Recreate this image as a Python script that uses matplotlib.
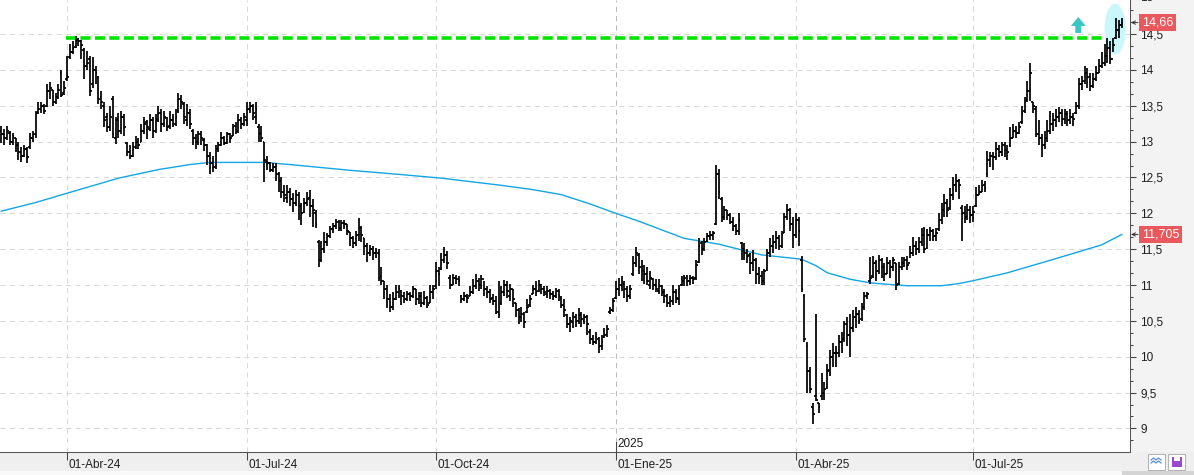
import matplotlib

matplotlib.use("Agg")
import matplotlib.pyplot as plt
import matplotlib.transforms as mtrans
from matplotlib.collections import LineCollection
from matplotlib.lines import Line2D
from matplotlib.patches import Ellipse, FancyArrowPatch, Rectangle
from matplotlib.ticker import FixedLocator, FuncFormatter, MultipleLocator, NullFormatter

plt.rcParams["font.family"] = ["Liberation Sans", "DejaVu Sans"]

# daily OHLC bars, one per trading session (index 0 = late Feb 2024, 392 = Sep 2025)
open_ = [
    13.15, 13.10, 13.05, 13.12, 13.00, 13.05, 12.95, 12.85, 12.80, 12.90,
    12.92, 13.05, 13.10, 13.40, 13.45, 13.50, 13.50, 13.70, 13.72, 13.55,
    13.62, 13.95, 13.68, 13.88, 14.18, 14.25, 14.32, 14.42, 14.40, 14.28,
    14.05, 14.15, 13.80, 14.00, 13.90, 13.62, 13.50, 13.35, 13.20, 13.60,
    13.05, 13.30, 13.15, 13.35, 12.98, 12.85, 12.80, 12.92, 13.00, 13.00,
    13.15, 13.28, 13.18, 13.30, 13.15, 13.30, 13.40, 13.25, 13.33, 13.22,
    13.30, 13.25, 13.42, 13.60, 13.52, 13.30, 13.40, 13.15, 13.05, 13.00,
    13.10, 13.02, 12.95, 12.80, 12.70, 12.65, 12.90, 12.95, 13.05, 12.98,
    13.10, 13.08, 13.22, 13.15, 13.30, 13.25, 13.30, 13.45, 13.50, 13.35,
    13.20, 13.12, 13.00, 12.72, 12.70, 12.60, 12.65, 12.55, 12.45, 12.30,
    12.22, 12.30, 12.20, 12.15, 12.25, 12.10, 12.02, 12.15, 12.22, 12.10,
    12.00, 11.60, 11.35, 11.50, 11.60, 11.68, 11.78, 11.82, 11.88, 11.80,
    11.86, 11.85, 11.74, 11.65, 11.58, 11.70, 11.80, 11.65, 11.55, 11.45,
    11.50, 11.45, 11.45, 11.12, 11.05, 10.95, 10.80, 10.70, 10.80, 10.90,
    10.92, 10.85, 10.80, 10.88, 10.85, 10.95, 10.80, 10.85, 10.75, 10.82,
    10.75, 10.90, 10.98, 11.20, 11.22, 11.35, 11.42, 11.10, 11.00, 11.10,
    11.08, 10.85, 10.80, 10.85, 10.85, 10.90, 10.98, 11.05, 11.00, 11.08,
    10.95, 10.90, 10.82, 10.78, 10.62, 10.75, 10.90, 11.00, 10.85, 10.95,
    10.75, 10.65, 10.55, 10.60, 10.62, 10.72, 10.88, 10.95, 10.92, 11.00,
    10.95, 10.88, 10.92, 10.88, 10.85, 10.92, 10.82, 10.72, 10.58, 10.45,
    10.48, 10.55, 10.50, 10.58, 10.50, 10.55, 10.35, 10.25, 10.20, 10.25,
    10.15, 10.28, 10.32, 10.62, 10.65, 10.82, 10.95, 11.00, 11.02, 10.95,
    10.85, 11.15, 11.30, 11.42, 11.25, 11.20, 11.15, 11.00, 11.08, 11.00,
    10.92, 10.98, 10.90, 10.85, 10.75, 10.78, 10.90, 10.80, 11.00, 11.05,
    11.12, 11.05, 11.10, 11.10, 11.32, 11.58, 11.50, 11.62, 11.68, 11.70,
    11.85, 12.55, 12.20, 11.95, 12.05, 11.98, 11.88, 11.82, 11.75, 11.58,
    11.50, 11.45, 11.42, 11.30, 11.35, 11.15, 11.12, 11.05, 11.22, 11.45,
    11.55, 11.60, 11.65, 11.55, 11.72, 11.95, 12.05, 11.85, 11.70, 11.90,
    11.35, 10.85, 10.15, 9.80, 9.30, 9.45, 9.35, 9.45, 9.50, 9.58,
    9.82, 10.00, 10.05, 10.05, 10.20, 10.25, 10.45, 10.30, 10.40, 10.55,
    10.60, 10.52, 10.70, 10.85, 11.05, 11.12, 11.30, 11.20, 11.35, 11.25,
    11.15, 11.30, 11.25, 11.30, 11.02, 11.25, 11.30, 11.35, 11.30, 11.45,
    11.55, 11.50, 11.60, 11.70, 11.52, 11.70, 11.75, 11.68, 11.78, 11.90,
    12.05, 12.15, 12.08, 12.25, 12.40, 12.45, 12.08, 12.00, 11.95, 12.05,
    11.98, 12.10, 12.25, 12.30, 12.40, 12.55, 12.75, 12.80, 12.78, 12.90,
    12.85, 12.95, 12.88, 12.95, 13.05, 13.15, 13.12, 13.28, 13.42, 13.58,
    13.70, 13.55, 13.45, 13.10, 13.05, 12.95, 13.05, 13.15, 13.25, 13.30,
    13.35, 13.40, 13.32, 13.38, 13.30, 13.35, 13.40, 13.50, 13.80, 13.85,
    13.95, 13.90, 13.78, 13.88, 13.95, 14.05, 14.10, 14.20, 14.30, 14.15,
    14.45, 14.55, 14.62,
]
high = [
    13.22, 13.18, 13.22, 13.15, 13.12, 13.05, 13.00, 12.92, 12.95, 12.92,
    13.12, 13.15, 13.42, 13.55, 13.55, 13.52, 13.80, 13.83, 13.72, 13.68,
    13.80, 14.00, 13.85, 14.20, 14.36, 14.40, 14.47, 14.45, 14.42, 14.30,
    14.26, 14.20, 14.18, 14.05, 13.92, 13.70, 13.55, 13.40, 13.50, 13.64,
    13.35, 13.40, 13.43, 13.38, 13.00, 12.95, 12.99, 13.08, 13.05, 13.25,
    13.35, 13.30, 13.38, 13.35, 13.38, 13.50, 13.45, 13.42, 13.35, 13.43,
    13.38, 13.45, 13.68, 13.65, 13.55, 13.52, 13.45, 13.18, 13.10, 13.15,
    13.15, 13.05, 12.97, 12.85, 12.80, 12.95, 13.00, 13.13, 13.08, 13.13,
    13.12, 13.25, 13.28, 13.38, 13.35, 13.40, 13.55, 13.55, 13.52, 13.55,
    13.25, 13.22, 13.00, 12.80, 12.72, 12.70, 12.70, 12.57, 12.50, 12.40,
    12.40, 12.35, 12.28, 12.32, 12.30, 12.15, 12.22, 12.30, 12.32, 12.20,
    12.05, 11.63, 11.62, 11.74, 11.72, 11.82, 11.86, 11.92, 11.90, 11.90,
    11.90, 11.85, 11.74, 11.68, 11.76, 11.93, 11.82, 11.65, 11.58, 11.56,
    11.55, 11.52, 11.50, 11.25, 11.05, 11.00, 10.88, 10.90, 11.00, 11.00,
    10.93, 10.90, 10.92, 10.90, 10.98, 10.95, 10.90, 10.90, 10.92, 10.85,
    11.00, 11.00, 11.32, 11.25, 11.45, 11.53, 11.48, 11.14, 11.16, 11.14,
    11.12, 10.86, 10.90, 10.88, 10.98, 11.08, 11.16, 11.10, 11.14, 11.05,
    10.98, 10.95, 10.88, 10.85, 11.05, 10.98, 11.07, 11.05, 11.02, 10.95,
    10.75, 10.68, 10.70, 10.62, 10.80, 10.86, 11.00, 11.05, 11.07, 11.02,
    10.98, 10.98, 10.95, 10.92, 10.96, 10.95, 10.85, 10.80, 10.60, 10.55,
    10.62, 10.60, 10.68, 10.62, 10.60, 10.58, 10.38, 10.30, 10.35, 10.28,
    10.30, 10.40, 10.44, 10.70, 10.82, 11.05, 11.10, 11.12, 11.05, 10.98,
    11.00, 11.40, 11.53, 11.45, 11.35, 11.28, 11.25, 11.20, 11.10, 11.08,
    11.09, 11.00, 10.95, 10.88, 10.85, 11.00, 10.95, 11.00, 11.12, 11.14,
    11.14, 11.14, 11.12, 11.35, 11.65, 11.62, 11.65, 11.72, 11.76, 11.76,
    12.67, 12.62, 12.23, 12.10, 12.05, 12.00, 11.95, 11.85, 12.00, 11.60,
    11.58, 11.50, 11.45, 11.49, 11.38, 11.25, 11.20, 11.23, 11.50, 11.65,
    11.70, 11.76, 11.70, 11.75, 12.00, 12.13, 12.08, 11.95, 12.00, 11.95,
    11.40, 10.88, 10.21, 9.85, 9.36, 10.60, 9.36, 9.77, 9.65, 9.90,
    10.10, 10.19, 10.15, 10.30, 10.35, 10.50, 10.55, 10.60, 10.65, 10.70,
    10.65, 10.75, 10.90, 10.90, 11.39, 11.40, 11.35, 11.42, 11.38, 11.30,
    11.39, 11.35, 11.39, 11.30, 11.32, 11.39, 11.39, 11.40, 11.55, 11.67,
    11.62, 11.67, 11.80, 11.81, 11.78, 11.81, 11.78, 11.80, 12.00, 12.15,
    12.27, 12.20, 12.35, 12.50, 12.55, 12.48, 12.11, 12.10, 12.13, 12.10,
    12.10, 12.37, 12.40, 12.46, 12.45, 12.87, 12.85, 12.85, 13.00, 12.95,
    13.00, 13.00, 12.95, 13.20, 13.25, 13.22, 13.28, 13.50, 13.62, 13.85,
    14.10, 13.55, 13.50, 13.30, 13.11, 13.15, 13.30, 13.43, 13.40, 13.45,
    13.48, 13.45, 13.45, 13.42, 13.45, 13.40, 13.55, 13.89, 13.92, 14.05,
    14.02, 13.95, 13.95, 14.05, 14.15, 14.25, 14.36, 14.45, 14.40, 14.45,
    14.73, 14.70, 14.72,
]
low = [
    12.98, 12.95, 13.02, 12.95, 12.95, 12.85, 12.75, 12.72, 12.78, 12.70,
    12.90, 13.00, 13.05, 13.38, 13.40, 13.38, 13.48, 13.60, 13.50, 13.52,
    13.60, 13.62, 13.65, 13.85, 14.15, 14.22, 14.30, 14.33, 14.15, 13.87,
    14.00, 13.64, 13.75, 13.80, 13.52, 13.45, 13.20, 13.13, 13.15, 13.05,
    12.97, 13.05, 13.10, 13.08, 12.80, 12.76, 12.78, 12.90, 12.90, 13.00,
    13.10, 13.04, 13.15, 13.05, 13.12, 13.28, 13.13, 13.20, 13.15, 13.18,
    13.20, 13.22, 13.40, 13.45, 13.25, 13.22, 13.18, 12.95, 12.90, 12.95,
    12.95, 12.87, 12.68, 12.55, 12.58, 12.62, 12.85, 12.94, 12.95, 12.96,
    12.98, 13.08, 13.10, 13.12, 13.18, 13.22, 13.22, 13.40, 13.30, 13.25,
    13.00, 13.00, 12.43, 12.60, 12.57, 12.57, 12.45, 12.30, 12.22, 12.16,
    12.15, 12.10, 12.02, 12.10, 11.90, 11.83, 12.00, 12.10, 11.95, 11.81,
    11.80, 11.25, 11.32, 11.44, 11.55, 11.65, 11.72, 11.78, 11.75, 11.75,
    11.78, 11.70, 11.55, 11.51, 11.55, 11.62, 11.60, 11.42, 11.32, 11.40,
    11.35, 11.38, 11.05, 11.00, 10.80, 10.68, 10.63, 10.65, 10.79, 10.82,
    10.72, 10.75, 10.78, 10.78, 10.82, 10.72, 10.74, 10.70, 10.72, 10.68,
    10.75, 10.80, 10.95, 10.98, 11.21, 11.30, 11.22, 10.95, 11.00, 11.02,
    10.98, 10.75, 10.78, 10.75, 10.84, 10.88, 10.95, 10.92, 10.95, 10.85,
    10.82, 10.75, 10.72, 10.60, 10.54, 10.72, 10.85, 10.82, 10.78, 10.70,
    10.55, 10.45, 10.48, 10.40, 10.61, 10.70, 10.88, 10.85, 10.90, 10.88,
    10.85, 10.82, 10.80, 10.79, 10.82, 10.78, 10.68, 10.55, 10.40, 10.35,
    10.40, 10.42, 10.45, 10.42, 10.45, 10.30, 10.18, 10.17, 10.18, 10.05,
    10.10, 10.26, 10.28, 10.60, 10.62, 10.80, 10.85, 10.92, 10.82, 10.77,
    10.80, 11.12, 11.25, 11.15, 11.05, 11.02, 11.00, 10.95, 10.93, 10.90,
    10.88, 10.84, 10.75, 10.70, 10.70, 10.72, 10.75, 10.72, 10.98, 10.98,
    10.98, 11.00, 11.02, 11.07, 11.30, 11.42, 11.48, 11.60, 11.63, 11.63,
    11.83, 12.20, 11.88, 11.90, 11.90, 11.85, 11.75, 11.70, 11.70, 11.35,
    11.35, 11.30, 11.15, 11.20, 11.02, 11.02, 11.00, 11.00, 11.20, 11.39,
    11.45, 11.50, 11.49, 11.52, 11.72, 11.90, 11.75, 11.51, 11.65, 11.55,
    10.90, 10.20, 9.50, 9.50, 9.06, 9.38, 9.22, 9.40, 9.40, 9.55,
    9.73, 9.85, 9.85, 10.00, 10.05, 10.20, 10.15, 10.00, 10.35, 10.40,
    10.45, 10.50, 10.65, 10.80, 11.02, 11.10, 11.05, 11.15, 11.10, 11.05,
    11.15, 11.10, 11.20, 10.93, 11.00, 11.21, 11.25, 11.21, 11.38, 11.40,
    11.42, 11.45, 11.55, 11.44, 11.50, 11.62, 11.62, 11.62, 11.76, 11.85,
    11.95, 11.95, 12.05, 12.18, 12.30, 12.20, 11.62, 11.86, 11.90, 11.86,
    11.88, 12.09, 12.25, 12.30, 12.30, 12.50, 12.65, 12.60, 12.74, 12.78,
    12.80, 12.78, 12.74, 12.92, 13.05, 13.05, 13.10, 13.25, 13.40, 13.55,
    13.57, 13.40, 13.06, 12.95, 12.78, 12.90, 13.00, 13.11, 13.15, 13.20,
    13.28, 13.22, 13.25, 13.22, 13.25, 13.22, 13.38, 13.45, 13.72, 13.80,
    13.75, 13.71, 13.75, 13.85, 13.95, 14.03, 14.05, 14.10, 14.08, 14.25,
    14.43, 14.45, 14.58,
]
close = [
    13.10, 13.05, 13.15, 13.00, 13.08, 12.95, 12.85, 12.80, 12.90, 12.78,
    13.05, 13.10, 13.40, 13.45, 13.50, 13.42, 13.70, 13.75, 13.55, 13.62,
    13.72, 13.65, 13.75, 13.90, 14.25, 14.30, 14.42, 14.40, 14.35, 14.05,
    14.10, 13.70, 14.00, 13.95, 13.60, 13.55, 13.30, 13.20, 13.35, 13.10,
    13.30, 13.15, 13.35, 13.20, 12.85, 12.80, 12.90, 13.00, 12.95, 13.15,
    13.25, 13.20, 13.30, 13.15, 13.30, 13.40, 13.25, 13.35, 13.20, 13.30,
    13.25, 13.35, 13.60, 13.55, 13.35, 13.40, 13.25, 13.05, 13.00, 13.10,
    13.05, 12.95, 12.80, 12.70, 12.65, 12.90, 12.95, 13.05, 12.98, 13.10,
    13.05, 13.20, 13.15, 13.30, 13.25, 13.35, 13.45, 13.50, 13.40, 13.45,
    13.10, 13.05, 12.75, 12.70, 12.60, 12.65, 12.55, 12.45, 12.30, 12.25,
    12.30, 12.20, 12.15, 12.25, 12.10, 12.00, 12.15, 12.20, 12.10, 12.05,
    11.85, 11.35, 11.50, 11.60, 11.68, 11.78, 11.82, 11.88, 11.80, 11.86,
    11.85, 11.75, 11.65, 11.58, 11.70, 11.80, 11.70, 11.55, 11.45, 11.50,
    11.45, 11.48, 11.10, 11.05, 10.95, 10.80, 10.70, 10.80, 10.90, 10.95,
    10.85, 10.80, 10.88, 10.85, 10.95, 10.80, 10.85, 10.75, 10.82, 10.72,
    10.90, 10.95, 11.20, 11.15, 11.35, 11.42, 11.30, 11.00, 11.10, 11.08,
    11.05, 10.80, 10.85, 10.82, 10.90, 10.98, 11.05, 11.00, 11.08, 10.95,
    10.90, 10.80, 10.78, 10.62, 10.58, 10.90, 11.00, 10.92, 10.95, 10.80,
    10.65, 10.55, 10.60, 10.48, 10.70, 10.80, 10.95, 10.90, 11.00, 10.95,
    10.90, 10.92, 10.88, 10.85, 10.92, 10.85, 10.72, 10.65, 10.45, 10.50,
    10.55, 10.50, 10.58, 10.52, 10.55, 10.45, 10.25, 10.20, 10.28, 10.15,
    10.20, 10.30, 10.38, 10.65, 10.78, 10.95, 11.00, 11.05, 10.95, 10.85,
    10.95, 11.30, 11.45, 11.25, 11.20, 11.15, 11.05, 11.10, 11.00, 10.95,
    10.98, 10.90, 10.85, 10.75, 10.78, 10.90, 10.82, 10.95, 11.05, 11.10,
    11.05, 11.10, 11.08, 11.28, 11.55, 11.50, 11.60, 11.68, 11.70, 11.72,
    12.55, 12.30, 11.95, 12.05, 11.98, 11.88, 11.82, 11.75, 11.90, 11.50,
    11.45, 11.40, 11.30, 11.35, 11.15, 11.10, 11.05, 11.20, 11.45, 11.55,
    11.60, 11.65, 11.55, 11.70, 11.95, 12.05, 11.85, 11.70, 11.90, 11.75,
    10.95, 10.25, 9.80, 9.55, 9.20, 9.40, 9.30, 9.50, 9.55, 9.80,
    10.00, 10.05, 10.05, 10.20, 10.25, 10.45, 10.30, 10.40, 10.55, 10.60,
    10.50, 10.70, 10.85, 10.88, 11.10, 11.30, 11.20, 11.35, 11.25, 11.15,
    11.30, 11.25, 11.35, 11.00, 11.25, 11.30, 11.35, 11.28, 11.45, 11.55,
    11.50, 11.60, 11.70, 11.50, 11.70, 11.75, 11.68, 11.72, 11.90, 12.05,
    12.15, 12.05, 12.25, 12.40, 12.45, 12.40, 12.00, 11.95, 12.05, 11.98,
    12.02, 12.25, 12.30, 12.38, 12.35, 12.75, 12.80, 12.78, 12.90, 12.85,
    12.95, 12.88, 12.85, 13.05, 13.15, 13.12, 13.20, 13.40, 13.55, 13.70,
    13.95, 13.50, 13.10, 13.05, 12.95, 13.05, 13.15, 13.25, 13.30, 13.35,
    13.40, 13.32, 13.38, 13.30, 13.35, 13.32, 13.50, 13.80, 13.85, 13.95,
    13.90, 13.78, 13.88, 13.95, 14.05, 14.10, 14.20, 14.30, 14.15, 14.35,
    14.55, 14.62, 14.66,
]

# long moving average at selected sessions
sma_idx = [0, 12, 23, 41, 55, 66, 73, 92, 101, 122, 140, 154, 175, 186,
           196, 206, 215, 223, 231, 239, 251, 266, 280, 285, 289, 297, 304,
           310, 317, 329, 335, 340, 352, 364, 375, 385, 392]
sma_val = [12.03, 12.15, 12.28, 12.49, 12.61, 12.68, 12.71, 12.71, 12.68, 12.60,
           12.54, 12.49, 12.39, 12.33, 12.26, 12.13, 12.00, 11.89, 11.77, 11.65,
           11.57, 11.42, 11.36, 11.27, 11.17, 11.08, 11.03, 11.01, 10.99, 10.99,
           11.02, 11.06, 11.17, 11.31, 11.44, 11.56, 11.705]

quarter_idx = [23, 86, 152, 215, 278, 340]
quarter_lbl = ["01-Abr-24", "01-Jul-24", "01-Oct-24", "01-Ene-25", "01-Abr-25", "01-Jul-25"]
year_idx = 215
year_lbl = "2025"

resist_level = 14.45
resist_from, resist_to = 22.6, 386.6
breakout_idx = 376.8
last_close = 14.66
last_sma = 11.705

W, H = 1194, 475
PW, PH = 1130, 452
BAND = H - PH


def comma(v):
    return f"{v:g}".replace(".", ",")


fig = plt.figure(figsize=(W / 100, H / 100), dpi=100)
fig.patch.set_facecolor("white")
ff = fig.transFigure
fig.add_artist(Rectangle((0, 0), 1, BAND / H, transform=ff, fc="#efefef", ec="none", zorder=-2))
fig.add_artist(Rectangle((0, 0), 1, 4 / H, transform=ff, fc="#f9f9f9", ec="none", zorder=-2))
fig.add_artist(Rectangle((1122 / W, 0), 72 / W, 4 / H, transform=ff, fc="#d4d4d4", ec="none", zorder=-2))
fig.add_artist(Rectangle((PW / W, BAND / H), 1 - PW / W, PH / H, transform=ff,
                         fc="#f3f3f3", ec="none", zorder=-2))

# small toolbar icons in the corner
for x0 in (1148, 1168):
    fig.add_artist(Rectangle((x0 / W, 5 / H), 17 / W, 16 / H, transform=ff,
                             fc="white", ec="#b3b3b3", lw=0.75))
for dy in (0, 3):
    fig.add_artist(Line2D([(1151 + k * 2.5) / W for k in range(5)],
                          [(12 + dy + (2 if k % 2 else 0)) / H for k in range(5)],
                          transform=ff, color="#5a8fd8", lw=0.9))
fig.add_artist(Rectangle((1172 / W, 8 / H), 10 / W, 10 / H, transform=ff, fc="#9a48cc", ec="none"))
fig.add_artist(Rectangle((1174 / W, 14 / H), 6 / W, 4 / H, transform=ff, fc="white", ec="none"))

ax = fig.add_axes([0, BAND / H, PW / W, PH / H])
ax.set_facecolor("white")
ax.set_xlim(-0.44, 394.9)
ax.set_ylim(8.671, 14.975)

# grid
ax.yaxis.set_major_locator(MultipleLocator(0.5))
ax.yaxis.set_minor_locator(MultipleLocator(1 / 6))
ax.grid(axis="y", which="major", color="#dadada", lw=0.75, ls=(0, (5, 4)), zorder=1)
for q in quarter_idx:
    ax.axvline(q, color="#bcbcbc" if q == year_idx else "#dadada", lw=0.75,
               ls=(0, (5, 4)), zorder=1)

ax.add_patch(Ellipse((389.7, 14.57), width=7.4, height=0.71, fc="#c9f7fb", ec="none", zorder=2))

ax.plot(sma_idx, sma_val, color="#12a6e4", lw=1.0, zorder=3)
ax.plot([resist_from, resist_to], [resist_level, resist_level], color="#00e400", lw=2.6,
        dashes=(2.8, 1.2), dash_capstyle="butt", zorder=3)

segs = []
for i in range(len(close)):
    segs.append([(i, low[i]), (i, high[i])])
    segs.append([(i - 0.6, open_[i]), (i, open_[i])])
    segs.append([(i, close[i]), (i + 0.6, close[i])])
ax.add_collection(LineCollection(segs, colors="black", linewidths=1.25, zorder=4))

ax.add_patch(FancyArrowPatch((breakout_idx, 14.515), (breakout_idx, 14.738),
                             arrowstyle="simple,head_length=0.65,head_width=1.08,tail_width=0.43",
                             mutation_scale=10, fc="#3cc6c6", ec="none",
                             shrinkA=0, shrinkB=0, zorder=5))

# axes and ticks
for side in ("top", "left"):
    ax.spines[side].set_visible(False)
for side in ("right", "bottom"):
    ax.spines[side].set_color("#555555")
    ax.spines[side].set_linewidth(0.75)

ax.yaxis.tick_right()
ax.yaxis.set_major_formatter(FuncFormatter(lambda v, _: comma(v)))
ax.tick_params(axis="y", which="major", direction="out", length=4.3, width=0.75,
               color="#444444", labelcolor="#1e1e1e", labelsize=8.5, pad=3)
ax.tick_params(axis="y", which="minor", direction="out", length=2.4, width=0.75, color="#444444")

ax.xaxis.set_major_locator(FixedLocator(quarter_idx))
ax.xaxis.set_major_formatter(NullFormatter())
ax.tick_params(axis="x", direction="out", length=5.8, width=0.75, color="#444444")

xt = mtrans.blended_transform_factory(ax.transData, ax.transAxes)
for q, lbl in zip(quarter_idx, quarter_lbl):
    ax.text(q + 0.6, -13 / PH, lbl, transform=xt, ha="left", va="center",
            fontsize=8.5, color="#1e1e1e", clip_on=False)
ax.plot([year_idx, year_idx], [0, 10 / PH], transform=xt, color="#444444", lw=0.75,
        clip_on=False, zorder=5)
ax.text(year_idx + 0.6, 8 / PH, year_lbl, transform=xt, ha="left", va="center",
        fontsize=8.5, color="#1e1e1e")

yt = mtrans.blended_transform_factory(ax.transAxes, ax.transData)
ax.text(1 + 10 / PW, 15.0, "15", transform=yt, ha="left", va="center", fontsize=8.5,
        color="#1e1e1e", clip_on=False)
for val in (last_close, last_sma):
    ax.text(1 + 12 / PW, val, comma(val), transform=yt, ha="left", va="center",
            fontsize=9, color="white", zorder=6, clip_on=False,
            bbox=dict(boxstyle="square,pad=0.22", fc="#e8585c", ec="none"))
    ax.annotate("", xy=(1 + 1 / PW, val), xycoords=yt, xytext=(1 + 8 / PW, val),
                textcoords=yt, annotation_clip=False,
                arrowprops=dict(arrowstyle="->", color="#333333", lw=0.7,
                                shrinkA=0, shrinkB=0, mutation_scale=6))

fig.savefig("out.png", dpi=100)
